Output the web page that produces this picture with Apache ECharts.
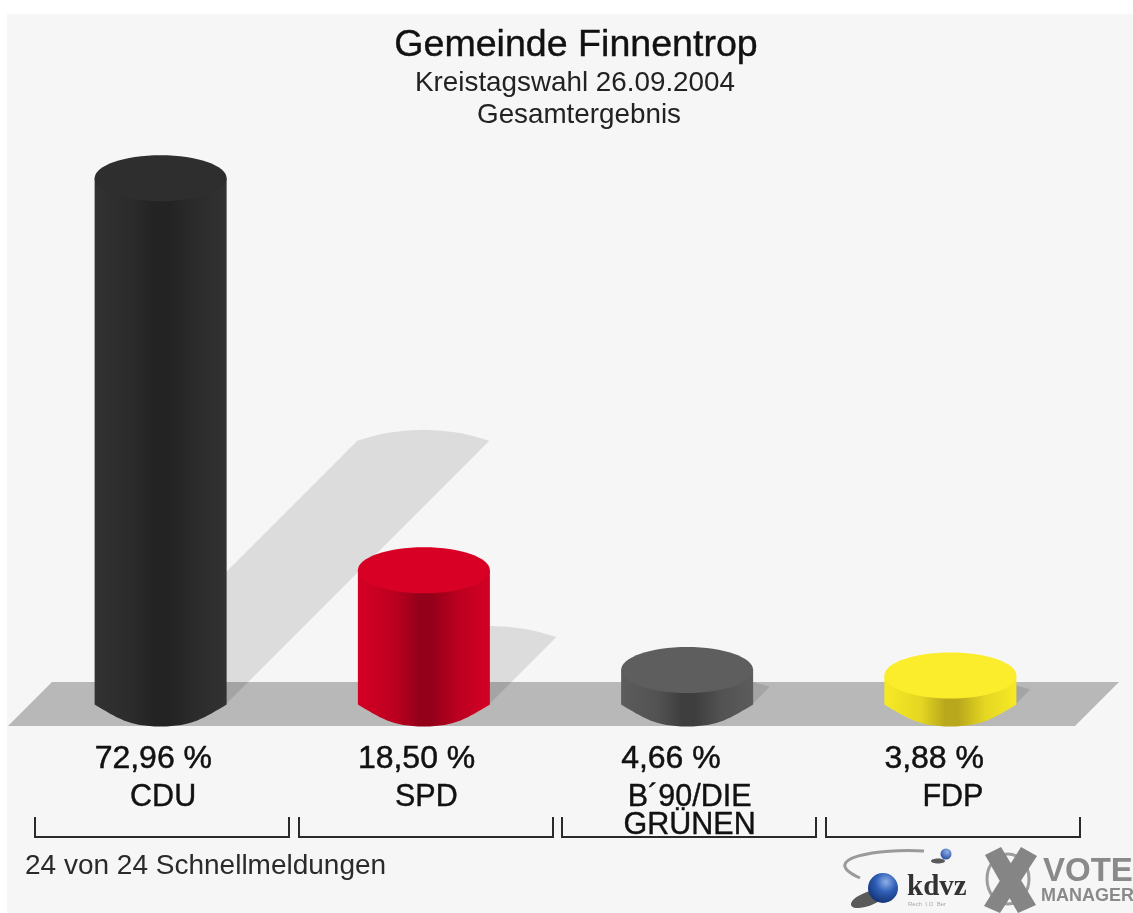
<!DOCTYPE html>
<html lang="de">
<head>
<meta charset="UTF-8">
<title>Gemeinde Finnentrop</title>
<script src="https://cdn.jsdelivr.net/npm/echarts@6/dist/echarts.min.js"></script>
<style>
    html, body { margin: 0; background: #fff; }
    #main { width: 1133px; height: 913px; filter: blur(0.6px); }
</style>
</head>
<body>
<div id="main"></div>
<script>
    // Daten
    const parties = ['CDU', 'SPD', 'B´90/DIE\nGRÜNEN', 'FDP'];
    const shares = [72.96, 18.50, 4.66, 3.88];
    const shareLabels = ['72,96 %', '18,50 %', '4,66 %', '3,88 %'];

    // Farben: Deckel, Rand, Schulter, Mitte
    const topColors = ['#2e2e2e', '#d80024', '#5e5e5e', '#fbed2b'];
    const edgeColors = ['#323232', '#d40024', '#5c5c5c', '#f6ea26'];
    const shoulderColors = ['#2b2b2b', '#bc0020', '#525252', '#e4d622'];
    const midColors = ['#232323', '#94001a', '#3e3e3e', '#b9a81c'];

    const FONT = '"Liberation Sans", Arial, sans-serif';
    const RX = 66, RY = 23;

    function renderShadow(params, api) {
        const i = api.value(0);
        const base = api.coord([i, 0]);
        const top = api.coord([i, api.value(1)]);
        const d = (base[1] - top[1]) / 2;
        const l = base[0] - RX, r = base[0] + RX;
        const y = base[1];
        return {
            type: 'path',
            shape: {
                pathData: `M${r} ${y}L${r + d} ${y - d}Q${base[0] + d} ${y - d - 22} ${l + d} ${y - d}L${l} ${y}Z`
            },
            style: { fill: 'rgba(0,0,0,0.105)' }
        };
    }

    function renderCylinder(params, api) {
        const i = api.value(0);
        const base = api.coord([i, 0]);
        const top = api.coord([i, api.value(1)]);
        const cx = base[0], l = cx - RX, r = cx + RX;
        const y0 = base[1], y1 = top[1];
        const body = `M${l} ${y1}L${l} ${y0 + 1}C${l + 22} ${y0 + 14} ${cx - 32} ${y0 + RY} ${cx} ${y0 + RY}` +
            `C${cx + 32} ${y0 + RY} ${r - 22} ${y0 + 14} ${r} ${y0 + 1}L${r} ${y1}Z`;
        return {
            type: 'group',
            children: [
                {
                    type: 'path',
                    shape: { pathData: body },
                    style: {
                        fill: {
                            type: 'linear', x: 0, y: 0, x2: 1, y2: 0,
                            colorStops: [
                                { offset: 0, color: edgeColors[i] },
                                { offset: 0.28, color: shoulderColors[i] },
                                { offset: 0.46, color: midColors[i] },
                                { offset: 0.56, color: midColors[i] },
                                { offset: 0.76, color: shoulderColors[i] },
                                { offset: 1, color: edgeColors[i] }
                            ]
                        }
                    }
                },
                {
                    type: 'ellipse',
                    shape: { cx: cx, cy: y1, rx: RX, ry: RY },
                    style: { fill: topColors[i] }
                },
                {
                    type: 'text',
                    style: {
                        text: shareLabels[i],
                        x: l, y: y0 + 56,
                        verticalAlign: 'middle',
                        fill: '#111',
                        stroke: '#111',
                        lineWidth: 0.5,
                        font: '32px ' + FONT
                    }
                }
            ]
        };
    }

    // Klammern unter den Parteien
    const brackets = [35, 299, 562, 826].map(left => ({
        type: 'polyline',
        shape: { points: [[left, 817], [left, 837], [left + 254, 837], [left + 254, 817]] },
        style: { stroke: '#2a2a2a', lineWidth: 2, fill: null }
    }));

    const logo = [
        // kdvz
        { type: 'bezierCurve', shape: { x1: 924, y1: 851, cpx1: 880, cpy1: 848, cpx2: 815, cpy2: 858, x2: 860, y2: 878 },
          style: { stroke: '#9a9a9a', lineWidth: 3, fill: null } },
        { type: 'ellipse', shape: { cx: 868, cy: 899, rx: 18, ry: 7 }, rotation: 0.35, originX: 868, originY: 899,
          style: { fill: '#333', opacity: 0.8 } },
        { type: 'circle', shape: { cx: 883, cy: 888, r: 15 },
          style: { fill: { type: 'radial', x: 0.6, y: 0.3, r: 0.75, colorStops: [
              { offset: 0, color: '#8fb0e8' }, { offset: 0.45, color: '#2f5fb8' }, { offset: 1, color: '#12306e' }] } } },
        { type: 'ellipse', shape: { cx: 938, cy: 861, rx: 7, ry: 2.5 }, style: { fill: '#333', opacity: 0.8 } },
        { type: 'circle', shape: { cx: 946, cy: 854, r: 5.5 },
          style: { fill: { type: 'radial', x: 0.6, y: 0.3, r: 0.8, colorStops: [
              { offset: 0, color: '#8fb0e8' }, { offset: 1, color: '#1c4496' }] } } },
        { type: 'text', x: 907, y: 873, style: { text: 'kdvz', fill: '#333', font: 'bold 29px "Liberation Serif", serif' } },
        { type: 'text', x: 908, y: 901, style: { text: 'Rech  I.O  Ber', fill: '#aaa', font: '6px ' + FONT } },
        // Vote Manager
        { type: 'ellipse', shape: { cx: 1008, cy: 879, rx: 21, ry: 25 }, style: { stroke: '#9c9c9c', lineWidth: 3, fill: null } },
        { type: 'polygon', shape: { points: [[985, 855], [1001, 847], [1036, 905], [1018, 913]] }, style: { fill: '#858585' } },
        { type: 'polygon', shape: { points: [[1021, 847], [1037, 856], [1000, 913], [984, 906]] }, style: { fill: '#858585' } },
        { type: 'text', x: 1043, y: 855, style: { text: 'VOTE', fill: '#8a8a8a', font: 'bold 33px ' + FONT } },
        { type: 'text', x: 1041, y: 887, style: { text: 'MANAGER', fill: '#8a8a8a', font: 'bold 18px ' + FONT } }
    ];

    const myChart = echarts.init(document.getElementById('main'));
    myChart.setOption({
        animation: false,
        title: [
            { text: 'Gemeinde Finnentrop', left: 571, top: 22, textAlign: 'center',
              textStyle: { fontFamily: FONT, fontSize: 37.6, fontWeight: 'normal', color: '#111', textBorderColor: '#111', textBorderWidth: 0.4 } },
            { text: 'Kreistagswahl 26.09.2004', left: 570, top: 64, textAlign: 'center',
              textStyle: { fontFamily: FONT, fontSize: 27.8, fontWeight: 'normal', color: '#222' } },
            { text: 'Gesamtergebnis', left: 574, top: 96, textAlign: 'center',
              textStyle: { fontFamily: FONT, fontSize: 27.8, fontWeight: 'normal', color: '#222' } }
        ],
        grid: { left: 29, width: 1053, top: 127.5, height: 576 },
        xAxis: {
            type: 'category',
            data: parties,
            axisLine: { show: false },
            axisTick: { show: false },
            axisLabel: {
                margin: 80,
                interval: 0,
                lineHeight: 28,
                verticalAlign: 'top',
                padding: [0, 0, 0, 5],
                fontFamily: FONT,
                fontSize: 30.5,
                color: '#111',
                textBorderColor: '#111',
                textBorderWidth: 0.4
            }
        },
        yAxis: { type: 'value', min: 0, max: 80, show: false },
        graphic: [
            { type: 'rect', z: -10, shape: { x: 7, y: 14, width: 1126, height: 899 }, style: { fill: '#f6f6f6' } },
            { type: 'polygon', z: -9, shape: { points: [[52, 682], [1119, 682], [1075, 726], [8, 726]] }, style: { fill: '#b8b8b8' } },
            { type: 'text', x: 25, y: 852, style: { text: '24 von 24 Schnellmeldungen', fill: '#2a2a2a', font: '28px ' + FONT } }
        ].concat(brackets, logo),
        series: [
            {
                type: 'custom',
                z: 1,
                clip: false,
                renderItem: renderShadow,
                encode: { x: 0, y: 1 },
                data: shares.map((v, i) => [i, v])
            },
            {
                type: 'custom',
                z: 2,
                clip: false,
                renderItem: renderCylinder,
                encode: { x: 0, y: 1 },
                data: shares.map((v, i) => [i, v])
            }
        ]
    });
</script>
</body>
</html>
